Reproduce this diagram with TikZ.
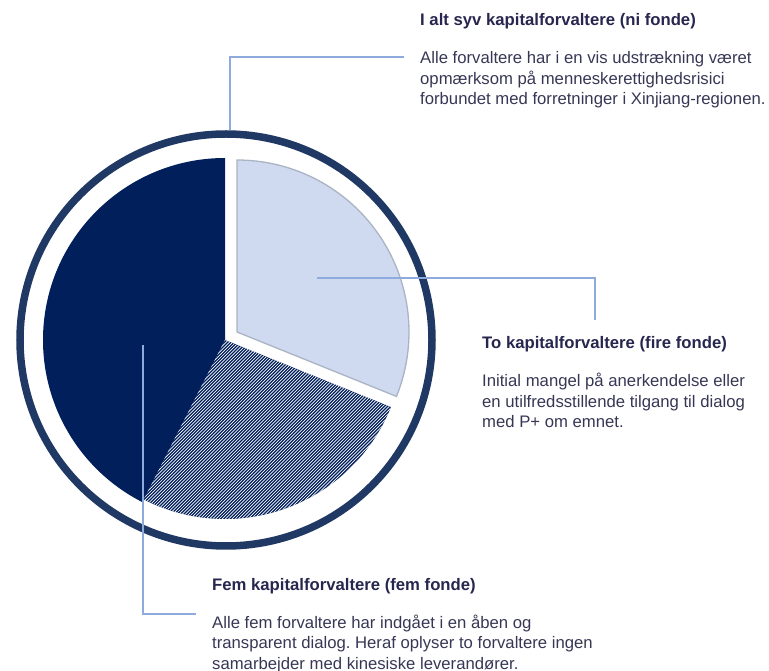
\documentclass[tikz,border=0pt]{standalone}
\usepackage{fontspec}
\setmainfont{Liberation Sans}
\frenchspacing
\definecolor{navy}{RGB}{0,31,91}
\definecolor{ringc}{RGB}{31,56,100}
\definecolor{lightc}{RGB}{207,217,239}
\definecolor{lightb}{RGB}{170,180,196}
\definecolor{leaderc}{RGB}{143,170,220}
\definecolor{headc}{RGB}{38,38,78}
\definecolor{bodyc}{RGB}{55,55,85}
\tikzset{
  leader/.style={draw=leaderc, line width=2.4pt},
  headtxt/.style={anchor=base west, inner sep=0pt, text=headc, font=\fontsize{16.7}{20.7}\selectfont\bfseries},
  bodytxt/.style={anchor=base west, inner sep=0pt, align=left, text=bodyc, font=\fontsize{16.7}{20.7}\selectfont},
}
\begin{document}
\begin{tikzpicture}[x=1pt,y=1pt]
\useasboundingbox (0,0) rectangle (769,670);
\coordinate (C) at (225,330);
\coordinate (L) at (237,338);
% dark slice
\fill[navy] (C) -- ++(90:182) arc[start angle=90, end angle=243, radius=182] -- cycle;
% hatched slice
\begin{scope}
\clip (C) -- ++(243:179) arc[start angle=243, end angle=338, radius=179] -- cycle;
\fill[navy] (C) circle (190);
\foreach \c in {-220,-216.8,...,270} \draw[white, line width=0.7pt] (\c+100,100) -- (\c+460,460);
\end{scope}
% light slice
\filldraw[fill=lightc, draw=lightb, line width=1.3pt] (L) -- ++(-22:172) arc[start angle=-22, end angle=90, radius=172] -- cycle;
% ring
\draw[ringc, line width=7.5pt] (226,330) circle (206);
% texts (body nodes anchored at the baseline of their last line)
\node[headtxt] (h1) at (420,644) {I alt syv kapitalforvaltere (ni fonde)};
\node[bodytxt] (b1) at (420,565) {Alle forvaltere har i en vis udstrækning været\\opmærksom på menneskerettighedsrisici\\forbundet med forretninger i Xinjiang-regionen.};
\node[headtxt] (h2) at (482,321) {To kapitalforvaltere (fire fonde)};
\node[bodytxt] (b2) at (482,242) {Initial mangel på anerkendelse eller\\en utilfredsstillende tilgang til dialog\\med P+ om emnet.};
\node[headtxt] (h3) at (212,79) {Fem kapitalforvaltere (fem fonde)};
\node[bodytxt] (b3) at (212,0.5) {Alle fem forvaltere har indgået i en åben og\\transparent dialog. Heraf oplyser to forvaltere ingen\\samarbejder med kinesiske leverandører.};
% leaders
\coordinate (t0) at (230,540);
\coordinate (t1) at (230,613);
\coordinate (t2) at (404,613);
\draw[leader] (t0) -- (t1) -- (t2);
\coordinate (r0) at (317,392);
\coordinate (r1) at (595,392);
\coordinate (r2) at (595,350);
\draw[leader] (r0) -- (r1) -- (r2);
\coordinate (l0) at (143,325);
\coordinate (l1) at (143,56);
\coordinate (l2) at (196,56);
\draw[leader] (l0) -- (l1) -- (l2);
\end{tikzpicture}
\end{document}
